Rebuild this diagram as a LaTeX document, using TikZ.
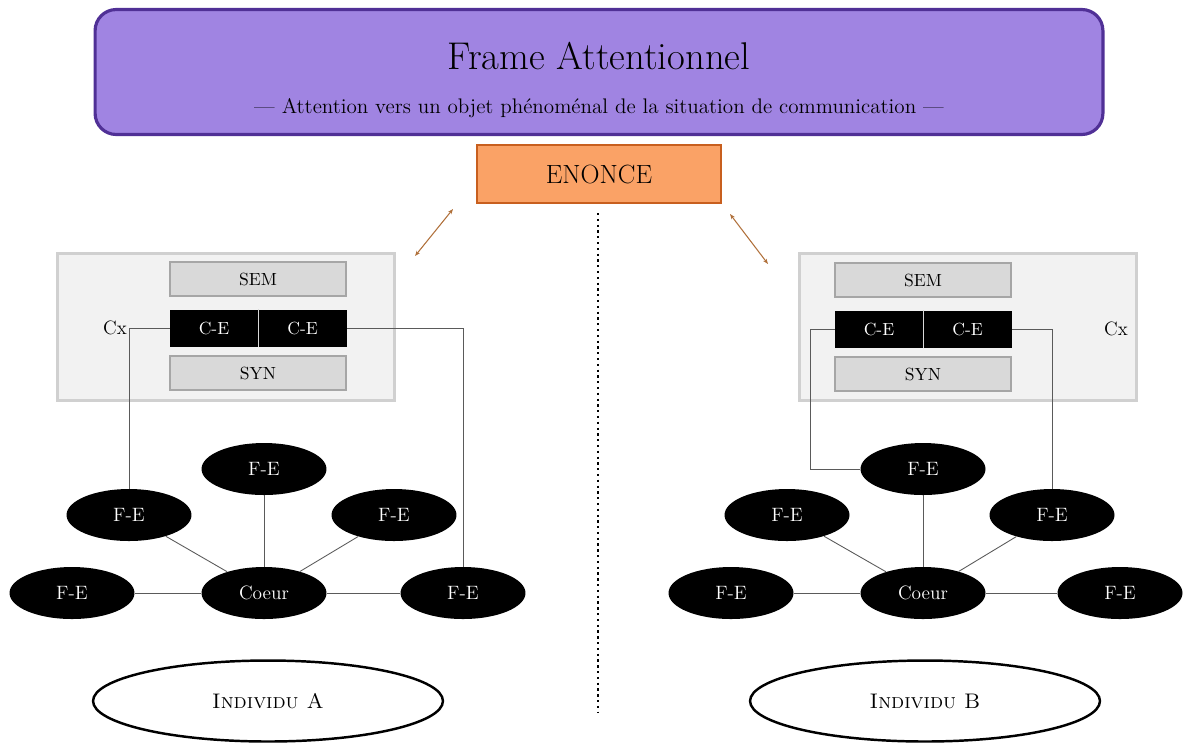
\documentclass[tikz,border=0pt]{standalone}
\definecolor{FramePurple}{RGB}{160, 132, 226}
\definecolor{FrameBorder}{RGB}{80, 48, 150}
\definecolor{EnonceOrange}{RGB}{250, 162, 102}
\definecolor{EnonceBorder}{RGB}{200, 95, 30}
\definecolor{CxFill}{RGB}{242, 242, 242}
\definecolor{CxBorder}{RGB}{208, 208, 208}
\definecolor{LayerFill}{RGB}{217, 217, 217}
\definecolor{LayerBorder}{RGB}{166, 166, 166}
\definecolor{LinkBrown}{RGB}{176, 112, 58}
\definecolor{LinkGrey}{RGB}{90, 90, 90}
\usepackage{tikz}
\usetikzlibrary{arrows.meta, positioning, shapes, calc}

\begin{document}
\begin{tikzpicture}[x=0.02cm, y=-0.02cm, every node/.style={font=\normalsize},
    cxbox/.style={draw=CxBorder, line width=1.6pt, fill=CxFill, minimum width=6.74cm, minimum height=2.94cm},
    layer/.style={draw=LayerBorder, line width=1.2pt, fill=LayerFill, minimum width=3.52cm, minimum height=0.68cm, inner sep=0pt},
    cebox/.style={fill=black, text=white, minimum width=1.76cm, minimum height=0.74cm, inner sep=0pt},
    fe/.style={ellipse, fill=black, text=white, minimum width=2.5cm, minimum height=1.04cm, inner sep=0pt, font=\fontsize{11}{13}\selectfont},
    individu/.style={ellipse, draw, line width=1.4pt, fill=white, minimum width=7cm, minimum height=1.62cm, font=\large\scshape},
    link/.style={draw=LinkGrey, line width=0.5pt},
    bidir/.style={draw=LinkBrown, line width=0.6pt, {Stealth[length=3pt]}-{Stealth[length=3pt]}}]
    \useasboundingbox (0,0) rectangle (1185,745);

    % cadre attentionnel
    \node[draw=FrameBorder, line width=1.8pt, fill=FramePurple, rounded corners=12pt, minimum width=20.16cm, minimum height=2.5cm] (frame) at (599,72) {};
    \node[font=\fontsize{22}{26}\selectfont] (title) at (599,56) {Frame Attentionnel};
    \node[font=\fontsize{12}{14}\selectfont] (subtitle) at (599,108) {--- Attention vers un objet phénoménal de la situation de communication ---};

    \node[draw=EnonceBorder, line width=1.5pt, fill=EnonceOrange, minimum width=4.88cm, minimum height=1.16cm, font=\fontsize{15}{18}\selectfont] (enonce) at (599,174) {ENONCE};

    \coordinate (sepTop) at (598,213);
    \coordinate (sepBot) at (598,712);
    \draw[line width=1.3pt, dotted] (sepTop) -- (sepBot);

    % individu A
    \node[cxbox] (cxA) at (226,327) {};
    \node[layer] (semA) at (258,279) {SEM};
    \node[cebox] (ceA1) at (214,328) {C-E};
    \node[cebox, right=0pt of ceA1] (ceA2) {C-E};
    \draw[LayerFill, line width=0.6pt] (ceA1.north east) -- (ceA1.south east);
    \node[layer] (synA) at (258,373) {SYN};
    \node[font=\fontsize{11}{13}\selectfont] (cxlabA) at (115,328) {Cx};

    \node[fe] (coeurA) at (264,593) {Coeur};
    \node[fe] (feA1) at (72,593) {F-E};
    \node[fe] (feA2) at (129,515) {F-E};
    \node[fe] (feA3) at (264,469) {F-E};
    \node[fe] (feA4) at (394,515) {F-E};
    \node[fe] (feA5) at (463,593) {F-E};

    \draw[link] (coeurA) -- (feA1);
    \draw[link] (coeurA) -- (feA2);
    \draw[link] (coeurA) -- (feA3);
    \draw[link] (coeurA) -- (feA4);
    \draw[link] (coeurA) -- (feA5);
    \draw[link] (ceA1.west) -| (feA2.north);
    \draw[link] (ceA2.east) -| (feA5.north);

    \node[individu] (indA) at (268,701) {Individu A};

    % individu B
    \node[cxbox] (cxB) at (968,327) {};
    \node[layer] (semB) at (923,280) {SEM};
    \node[cebox] (ceB1) at (879,329) {C-E};
    \node[cebox, right=0pt of ceB1] (ceB2) {C-E};
    \draw[LayerFill, line width=0.6pt] (ceB1.north east) -- (ceB1.south east);
    \node[layer] (synB) at (923,374) {SYN};
    \node[font=\fontsize{11}{13}\selectfont] (cxlabB) at (1116,329) {Cx};

    \node[fe] (coeurB) at (923,593) {Coeur};
    \node[fe] (feB1) at (731,593) {F-E};
    \node[fe] (feB2) at (787,515) {F-E};
    \node[fe] (feB3) at (923,469) {F-E};
    \node[fe] (feB4) at (1052,515) {F-E};
    \node[fe] (feB5) at (1120,593) {F-E};

    \draw[link] (coeurB) -- (feB1);
    \draw[link] (coeurB) -- (feB2);
    \draw[link] (coeurB) -- (feB3);
    \draw[link] (coeurB) -- (feB4);
    \draw[link] (coeurB) -- (feB5);
    \draw[link] (ceB1.west) -- ++(-24,0) |- (feB3.west);
    \draw[link] (ceB2.east) -| (feB4.north);

    \node[individu] (indB) at (925,701) {Individu B};

    % liens vers l'enonce
    \coordinate (arrA1) at (453,209);
    \coordinate (arrA2) at (415,256);
    \coordinate (arrB1) at (730,214);
    \coordinate (arrB2) at (768,264);
    \draw[bidir] (arrA1) -- (arrA2);
    \draw[bidir] (arrB1) -- (arrB2);
\end{tikzpicture}
\end{document}
